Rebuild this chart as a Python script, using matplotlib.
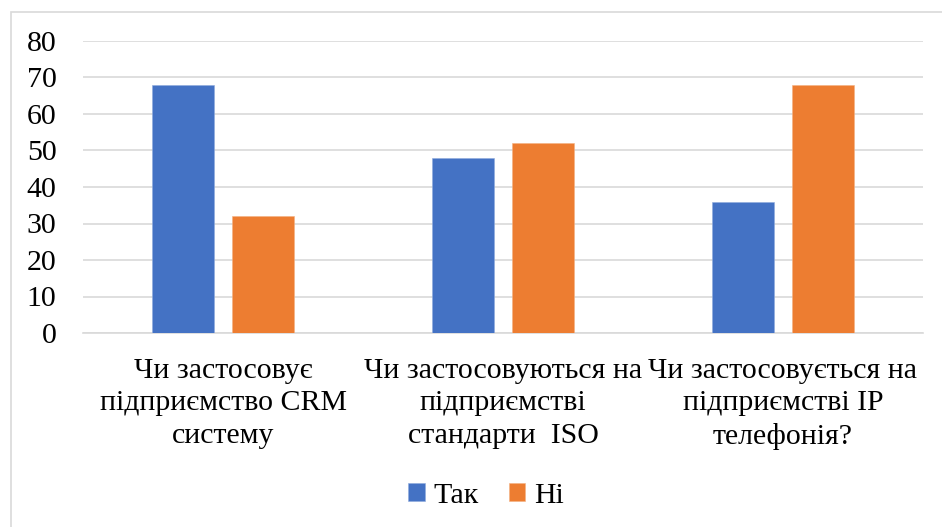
import matplotlib
matplotlib.use("Agg")
import matplotlib.pyplot as plt
from matplotlib.patches import Rectangle
import numpy as np

categories = [
    "Чи застосовує\nпідприємство CRM\nсистему",
    "Чи застосовуються на\nпідприємстві\nстандарти  ISO",
    "Чи застосовується на\nпідприємстві IP\nтелефонія?",
]
series_names = ["Так", "Ні"]
yes_values = [68, 48, 36]
no_values = [32, 52, 68]
y_ticks = [0, 10, 20, 30, 40, 50, 60, 70, 80]

BLUE = "#4472C4"
ORANGE = "#ED7D31"
GRID = "#D9D9D9"
FS = 21.5

plt.rcParams["font.family"] = ["Liberation Serif", "DejaVu Serif"]
plt.rcParams["text.color"] = "black"

W, H = 942, 527
fig = plt.figure(figsize=(W / 100, H / 100), dpi=100)
fig.patch.set_facecolor("white")

# outer chart border
fig.patches.append(Rectangle((11 / W, -0.1), 1.2, 1 - 11.5 / H + 0.1,
                             transform=fig.transFigure, fill=False,
                             edgecolor=GRID, linewidth=1.2))

ax = fig.add_axes([83 / W, 1 - 333 / H, 840 / W, 292 / H])
x = np.arange(len(categories))
bw = 62 / 280
off = 40 / 280
ax.bar(x - off, yes_values, bw, color=BLUE, label=series_names[0],
       edgecolor="#8FAADC", linewidth=0.4, zorder=3)
ax.bar(x + off, no_values, bw, color=ORANGE, label=series_names[1],
       edgecolor="#F4B183", linewidth=0.4, zorder=3)

ax.set_xlim(-0.5, len(categories) - 0.5)
ax.set_ylim(0, 80)
ax.set_yticks(y_ticks)
ax.set_yticklabels([str(v) for v in y_ticks], fontsize=FS)
ax.set_xticks(x)
ax.set_xticklabels(categories, fontsize=FS, linespacing=1.32)
ax.tick_params(axis="y", length=0, pad=19)
ax.tick_params(axis="x", length=0, pad=18)
ax.grid(axis="y", color=GRID, linewidth=1.2, zorder=0)
ax.set_axisbelow(True)
for s in ["top", "right", "left"]:
    ax.spines[s].set_visible(False)
ax.spines["bottom"].set_color(GRID)
ax.spines["bottom"].set_linewidth(1.2)

fig.legend(loc="center", bbox_to_anchor=(486 / W, 1 - 496 / H),
           ncol=2, frameon=False, prop={"size": FS},
           handlelength=0.55, handleheight=0.55, handletextpad=0.3,
           columnspacing=1.0)

fig.savefig("out.png", dpi=100)
